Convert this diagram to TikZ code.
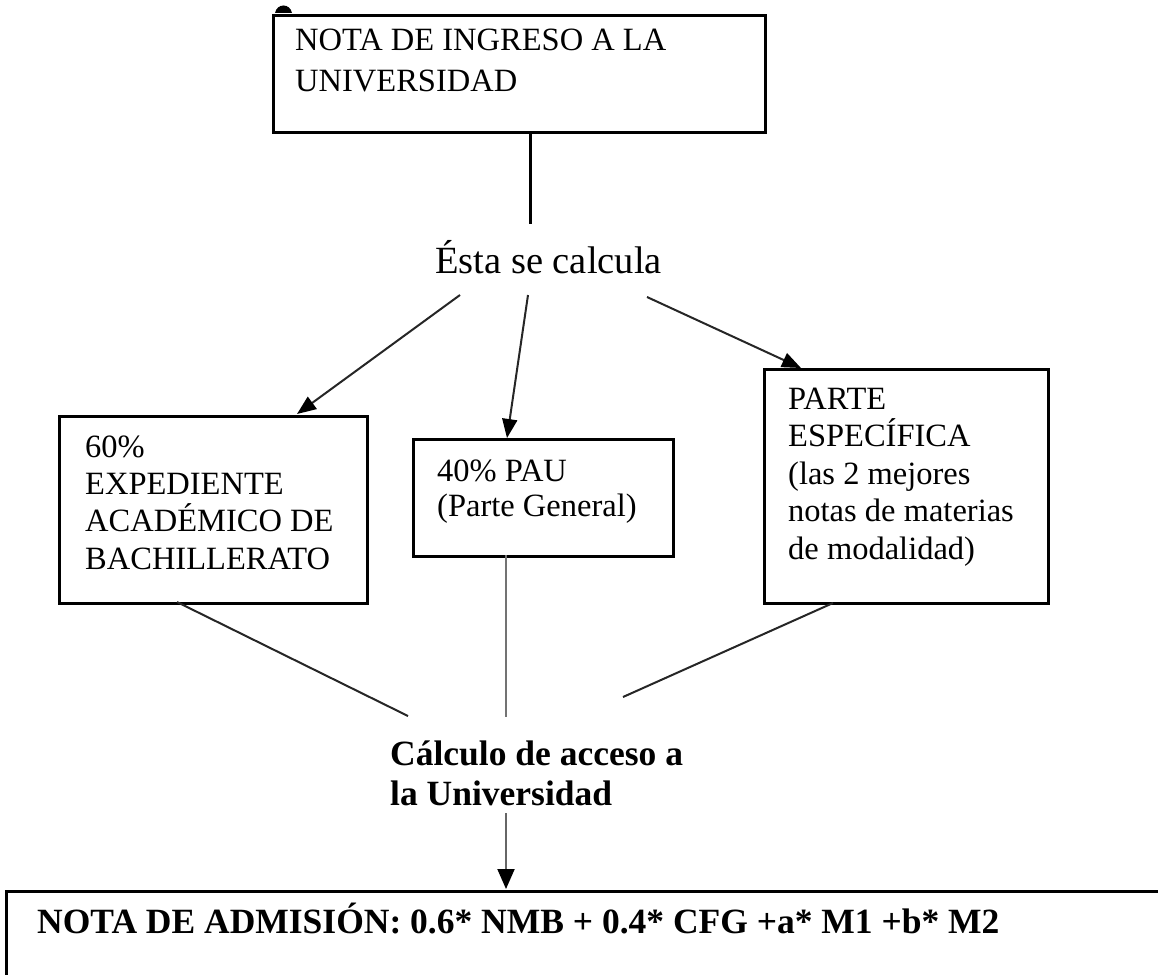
\documentclass[tikz,border=0pt]{standalone}
\usepackage{fontspec}
\setmainfont{Liberation Serif}
\usetikzlibrary{arrows.meta}
\begin{document}
\begin{tikzpicture}[x=1pt,y=-1pt,
  boxframe/.style={draw=black,line width=3pt,inner sep=0pt,anchor=north west},
  txt/.style={inner sep=0pt,anchor=base west},
  conn/.style={draw=black!85,line width=2pt},
  arr/.style={conn,-{Triangle[length=19pt,width=15pt,color=black,fill=black]}}]
\useasboundingbox (0,0) rectangle (1158,974);
\clip (0,0) rectangle (1158,974);
% small mark above the top box
\fill (275,13) .. controls (277,3) and (290,3) .. (292,13) -- cycle;
% boxes
\node[boxframe,minimum width=492pt,minimum height=117pt] (top) at (272,14) {};
\node[boxframe,minimum width=308pt,minimum height=187pt] (left) at (58,415) {};
\node[boxframe,minimum width=260pt,minimum height=117pt] (mid) at (412,438) {};
\node[boxframe,minimum width=284pt,minimum height=234pt] (right) at (763,368) {};
\node[boxframe,minimum width=1170pt,minimum height=120pt] (adm) at (5,890) {};
% texts
\node[txt,font=\fontsize{32.5}{40}\selectfont] (ttop) at (295,51)
  {\parbox[t]{460pt}{NOTA DE INGRESO A LA\\UNIVERSIDAD}};
\node[txt,font=\fontsize{38.5}{44}\selectfont] (esta) at (435,273) {Ésta se calcula};
\node[txt,font=\fontsize{32.5}{37.4}\selectfont] (tleft) at (85,457)
  {\parbox[t]{280pt}{60\%\\EXPEDIENTE\\ACADÉMICO DE\\BACHILLERATO}};
\node[txt,font=\fontsize{32.5}{35}\selectfont] (tmid) at (437,481)
  {\parbox[t]{230pt}{40\% PAU\\(Parte General)}};
\node[txt,font=\fontsize{32.5}{37.5}\selectfont] (tright) at (788,409)
  {\parbox[t]{255pt}{PARTE\\ESPECÍFICA\\(las 2 mejores\\notas de materias\\de modalidad)}};
\node[txt,font=\fontsize{35.5}{40}\selectfont\bfseries] (calc) at (390,765)
  {\parbox[t]{320pt}{Cálculo de acceso a\\la Universidad}};
\node[txt,font=\fontsize{35.5}{40}\selectfont\bfseries] (tadm) at (37,933)
  {NOTA DE ADMISIÓN: 0.6* NMB + 0.4* CFG +a* M1 +b* M2};
% connector end points
\coordinate (t0) at (530,131);
\coordinate (t1) at (530,224);
\coordinate (e1) at (460,295);
\coordinate (e2) at (528,295);
\coordinate (e3) at (647,297);
\coordinate (l1) at (297,414);
\coordinate (m1) at (507,438);
\coordinate (r1) at (801,368);
\coordinate (lb) at (177,602);
\coordinate (mb) at (506,555);
\coordinate (rb) at (833,603);
\coordinate (j1) at (408,716);
\coordinate (j2) at (506,717);
\coordinate (j3) at (623,697);
\coordinate (c0) at (506,813);
\coordinate (a0) at (506,889);
% connectors
\draw[line width=3pt] (t0) -- (t1);
\draw[arr] (e1) -- (l1);
\draw[arr] (e2) -- (m1);
\draw[arr] (e3) -- (r1);
\draw[conn] (lb) -- (j1);
\draw[conn,draw=black!55] (mb) -- (j2);
\draw[conn] (rb) -- (j3);
\draw[conn,draw=black!60,-{Triangle[length=20pt,width=17pt,color=black,fill=black]}] (c0) -- (a0);
\end{tikzpicture}
\end{document}
